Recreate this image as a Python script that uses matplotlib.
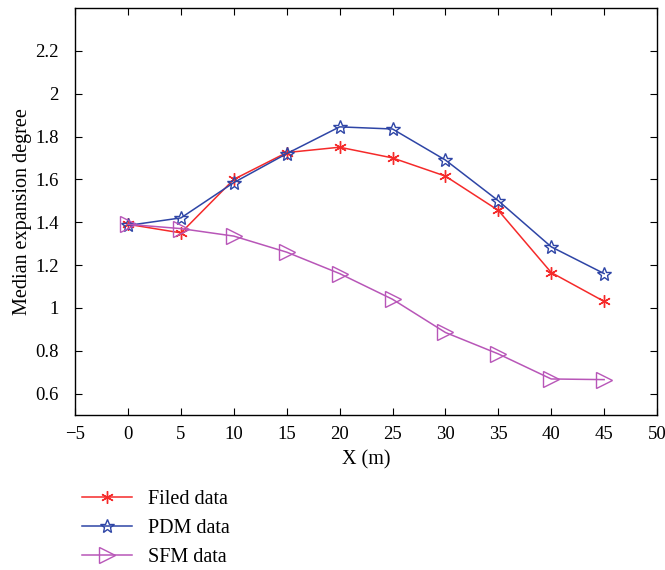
import numpy as np
import matplotlib.pyplot as plt

plt.rcParams['font.family'] = ['Liberation Serif', 'DejaVu Serif']

x = np.arange(0, 50, 5)
filed = [1.39, 1.35, 1.60, 1.725, 1.75, 1.70, 1.615, 1.455, 1.165, 1.03]
pdm = [1.385, 1.42, 1.585, 1.72, 1.845, 1.835, 1.69, 1.50, 1.285, 1.16]
sfm = [1.39, 1.37, 1.335, 1.26, 1.16, 1.04, 0.885, 0.785, 0.668, 0.665]

fig = plt.figure(figsize=(6.65, 5.7), dpi=100)
ax = fig.add_axes([0.113, 0.272, 0.875, 0.714])

ax.plot(x, filed, color='#f52a2a', lw=1.1, marker=(6, 2, 0), ms=9, mew=1.0, label='Filed data')
ax.plot(x, pdm, color='#2e45a6', lw=1.1, marker='*', ms=10, mfc='none', mew=1.0, label='PDM data')
ax.plot(x, sfm, color='#b856b8', lw=1.1, marker='>', ms=11, mfc='none', mew=1.0, label='SFM data')

ax.set_xlim(-5, 50)
ax.set_ylim(0.5, 2.4)
ax.set_xticks(np.arange(-5, 55, 5))
ax.set_xticklabels(['\u22125'] + [str(v) for v in range(0, 55, 5)])
ax.set_yticks([0.6, 0.8, 1.0, 1.2, 1.4, 1.6, 1.8, 2.0, 2.2])
ax.set_yticklabels(['0.6', '0.8', '1', '1.2', '1.4', '1.6', '1.8', '2', '2.2'])
ax.tick_params(direction='in', top=True, right=True, labelsize=13.5, length=5, width=0.8)
ax.tick_params(axis='y', pad=12)
ax.tick_params(axis='x', pad=8)
for s in ax.spines.values():
    s.set_linewidth(1.0)

ax.set_xlabel('X (m)', fontsize=14.5, labelpad=5)
ax.set_ylabel('Median expansion degree', fontsize=14.5, labelpad=2)

fig.legend(loc='lower left', bbox_to_anchor=(0.096, -0.027), frameon=False,
           fontsize=14.5, handlelength=2.5, labelspacing=0.5, handletextpad=0.8)

fig.savefig('out.png', dpi=100)
